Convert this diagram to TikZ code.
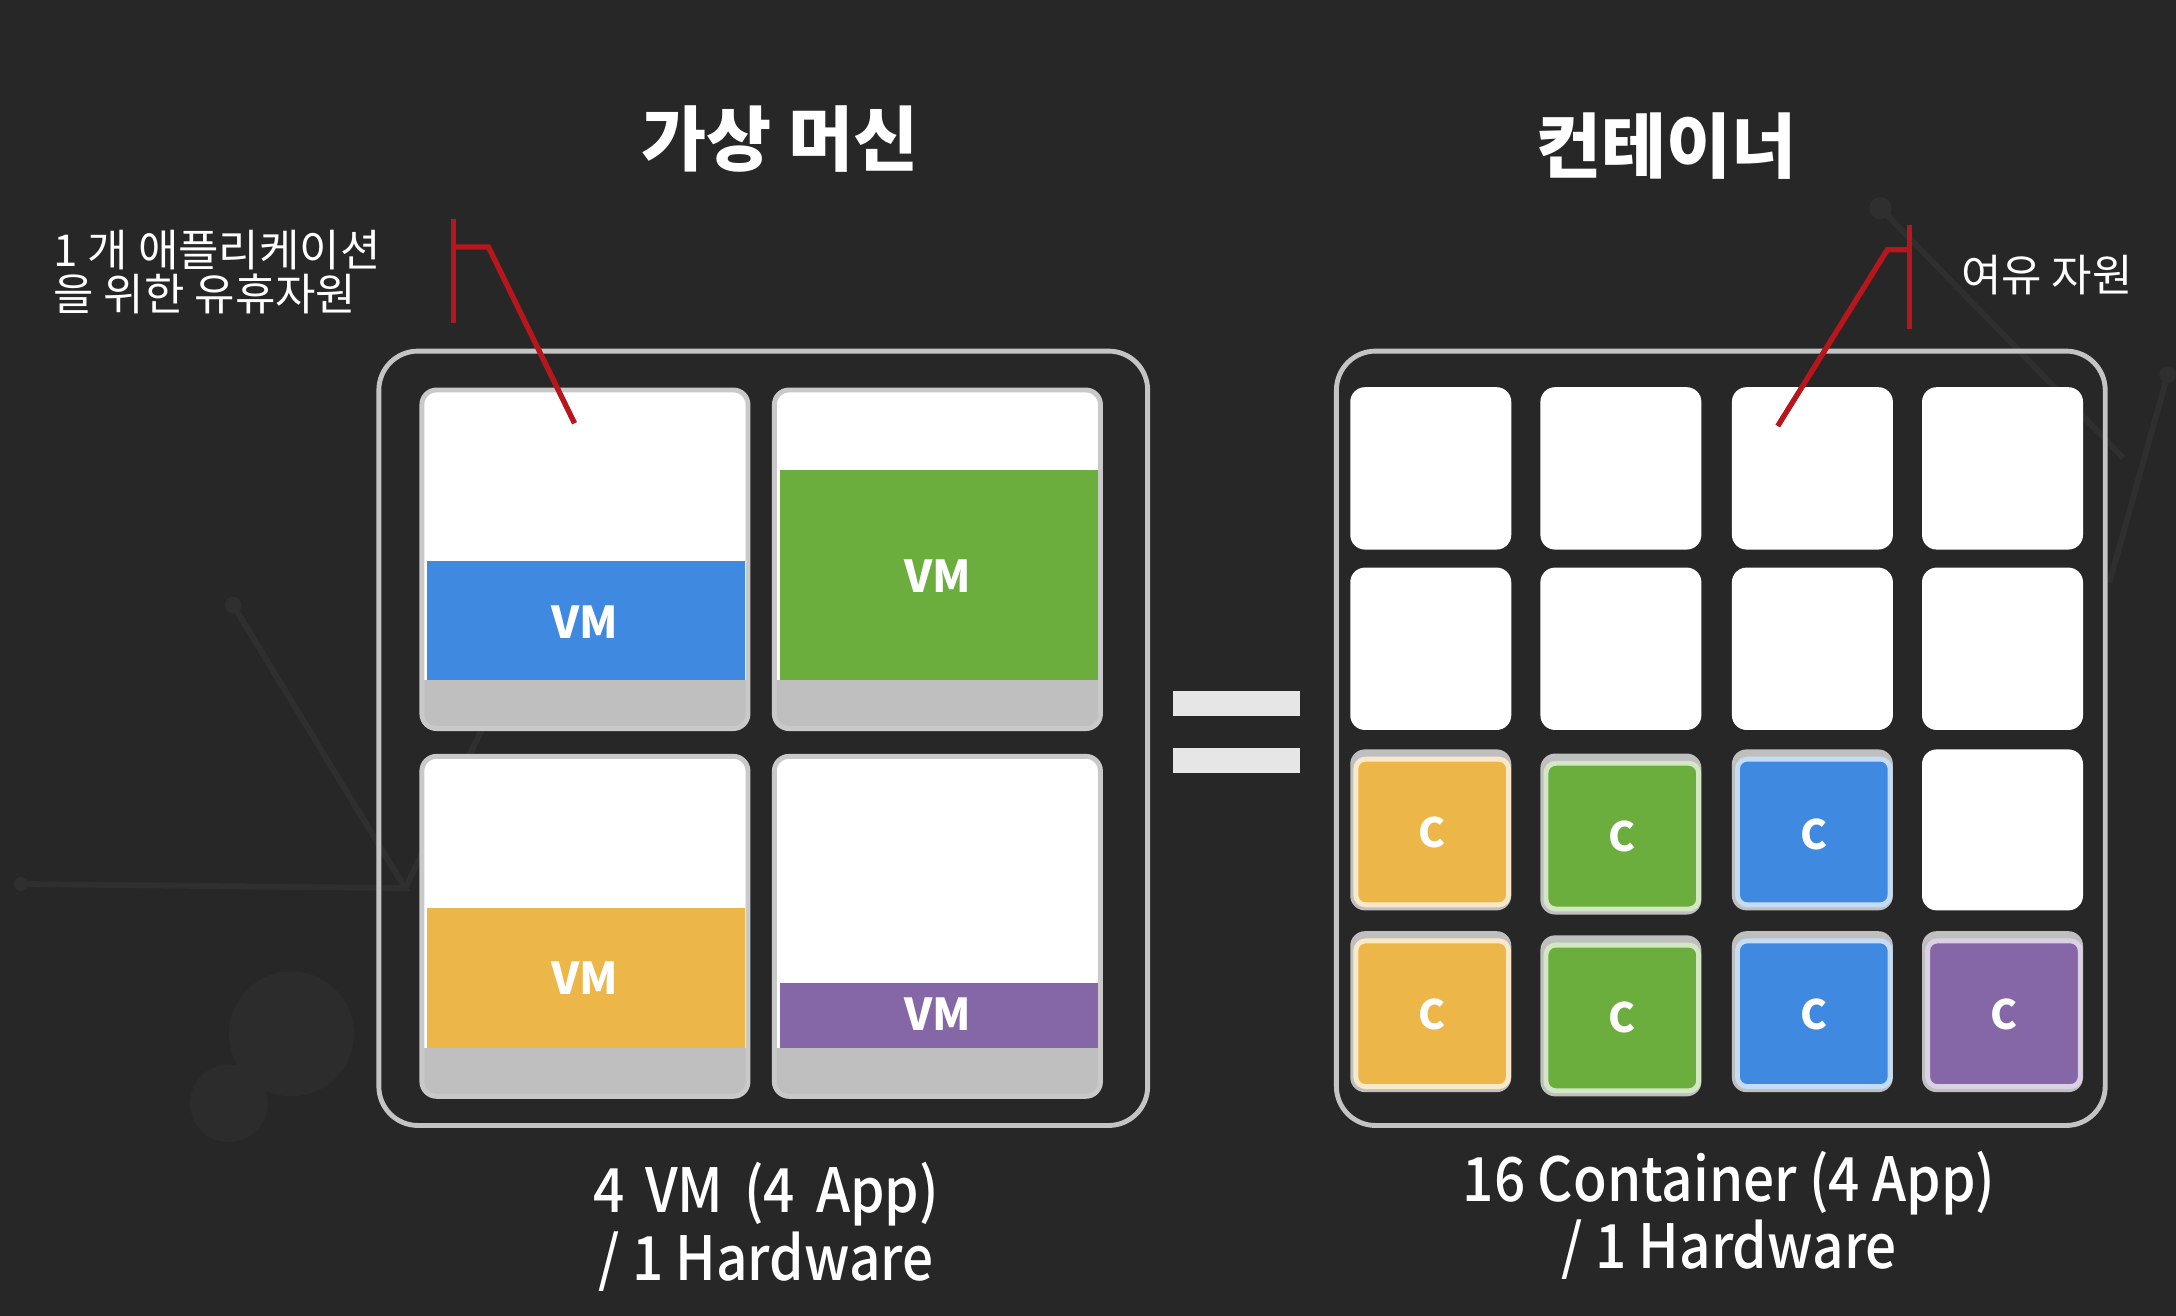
\documentclass[tikz,border=0pt]{standalone}
\usepackage{fontspec}
\newfontfamily\kr{Noto Sans CJK KR}
\newfontfamily\krm{Noto Sans CJK KR}[UprightFont=* Medium]
\definecolor{bg}{HTML}{272727}
\definecolor{panelline}{HTML}{C4C4C4}
\definecolor{cellgray}{HTML}{BFBFBF}
\definecolor{vmblue}{HTML}{3F89E0}
\definecolor{vmgreen}{HTML}{6BAE3D}
\definecolor{vmyellow}{HTML}{EDB649}
\definecolor{vmpurple}{HTML}{8567A8}
\definecolor{annred}{HTML}{B8161D}
\definecolor{eqc}{HTML}{E6E6E6}
\definecolor{deco}{HTML}{2F2F2F}
\tikzset{
  title/.style={text=white, font=\kr\bfseries\fontsize{14.5}{16}\selectfont, inner sep=0pt},
  anno/.style={text=white, font=\kr\fontsize{9}{9.1}\selectfont, inner sep=0pt},
  caption/.style={text=white, font=\krm\fontsize{12.5}{12.6}\selectfont, align=center, inner sep=0pt},
  vmlabel/.style={text=white, font=\kr\bfseries\fontsize{9}{10}\selectfont, inner sep=0pt},
  clabel/.style={text=white, font=\kr\bfseries\fontsize{8.3}{9}\selectfont, inner sep=0pt},
  panel/.style={draw=panelline, line width=1.0, rounded corners=8},
  annline/.style={draw=annred, line width=1.1},
  cellborder/.style={draw=cellgray!85, line width=1, rounded corners=3},
}
\newcommand\cnd[1]{\scalebox{0.9}[1]{#1}}
\newcommand\wsp{\hspace{0.38em}}
\newcommand\vmcell[8]{%
  \begin{scope}
    \clip[rounded corners=3] (#1,#2) rectangle (#3,#4);
    \fill[white] (#1,#2) rectangle (#3,#4);
    \fill[cellgray] (#1,#4-35) rectangle (#3,#4);
    \fill[#6] (#1+4,#5) rectangle (#3-2,#4-35);
  \end{scope}
  \draw[cellborder] (#1,#2) rectangle (#3,#4);
  \node[vmlabel] (#7) at ({(#1+#3)/2},#8) {VM};
}
\newcommand\emptycell[4]{%
  \fill[white, rounded corners=3] (#1,#2) rectangle (#3,#4);
}
\newcommand\ccell[7]{%
  \fill[cellgray, rounded corners=3] (#1,#2) rectangle (#3,#4);
  \fill[#5, draw=white!70!#5, line width=1, rounded corners=2] (#1+4,#2+7) rectangle (#3-2,#4-4);
  \node[clabel] (#6) at ({(#1+#3)/2+1},#7) {C};
}
\begin{document}
\begin{tikzpicture}[x=0.01cm,y=-0.01cm]
\fill[bg] (0,0) rectangle (1568,948);
\useasboundingbox (0,0) rectangle (1568,948);

% faint background network
\begin{scope}[deco, line width=1.2]
  \draw (168,436) -- (292,640) -- (15,637);
  \draw (292,640) -- (350,520);
  \fill (168,436) circle (6);
  \fill (15,637) circle (5);
  \draw (1355,150) -- (1530,330);
  \fill (1355,150) circle (8);
  \draw (1562,270) -- (1520,420);
  \fill (1562,270) circle (6);
  \fill[deco!60!bg] (210,745) circle (45);
  \fill[deco!60!bg] (165,795) circle (28);
\end{scope}

% titles
\node[title] (tvm) at (562,100) {가상 머신};
\node[title] (tct) at (1201,105) {컨테이너};

% panels
\draw[panel] (273,253) rectangle (827,811);
\draw[panel] (963,253) rectangle (1517,811);

% VM cells
\vmcell{304}{281}{539}{525}{404}{vmblue}{vm1}{448}
\vmcell{558}{281}{793}{525}{339}{vmgreen}{vm2}{415}
\vmcell{304}{545}{539}{790}{654}{vmyellow}{vm3}{705}
\vmcell{558}{545}{793}{790}{708}{vmpurple}{vm4}{731}

% equals sign
\fill[eqc] (845,498) rectangle (937,516);
\fill[eqc] (845,539) rectangle (937,557);

% container cells
\foreach \xa/\xb in {973/1089,1110/1226,1248/1364,1385/1501}{
  \emptycell{\xa}{279}{\xb}{396}
  \emptycell{\xa}{409}{\xb}{526}
}
\emptycell{1385}{540}{1501}{656}
\ccell{973}{540}{1089}{656}{vmyellow}{c1}{600}
\ccell{1110}{543}{1226}{659}{vmgreen}{c2}{603}
\ccell{1248}{540}{1364}{656}{vmblue}{c3}{601}
\ccell{973}{671}{1089}{787}{vmyellow}{c4}{731}
\ccell{1110}{674}{1226}{790}{vmgreen}{c5}{733}
\ccell{1248}{671}{1364}{787}{vmblue}{c6}{731}
\ccell{1385}{671}{1501}{787}{vmpurple}{c7}{731}

% annotations
\node[anno, anchor=west, align=left] (a1) at (38,196) {1 개 애플리케이션\\을 위한 유휴자원};
\node[anno] (a2) at (1475,198) {여유 자원};
\coordinate (b1t) at (327,158);
\coordinate (b1b) at (327,233);
\coordinate (b1m) at (327,178);
\coordinate (b1k) at (352,178);
\coordinate (b1e) at (414,305);
\draw[annline] (b1t) -- (b1b);
\draw[annline] (b1m) -- (b1k) -- (b1e);
\coordinate (b2t) at (1376,162);
\coordinate (b2b) at (1376,237);
\coordinate (b2m) at (1376,180);
\coordinate (b2k) at (1360,180);
\coordinate (b2e) at (1281,307);
\draw[annline] (b2t) -- (b2b);
\draw[annline] (b2m) -- (b2k) -- (b2e);

% captions
\node[caption] (cap1) at (552,884) {\cnd{4\wsp VM\wsp (4\wsp App)}\\\cnd{/ 1 Hardware}};
\node[caption] (cap2) at (1246,876) {\cnd{16 Container (4 App)}\\\cnd{/ 1 Hardware}};
\end{tikzpicture}
\end{document}
